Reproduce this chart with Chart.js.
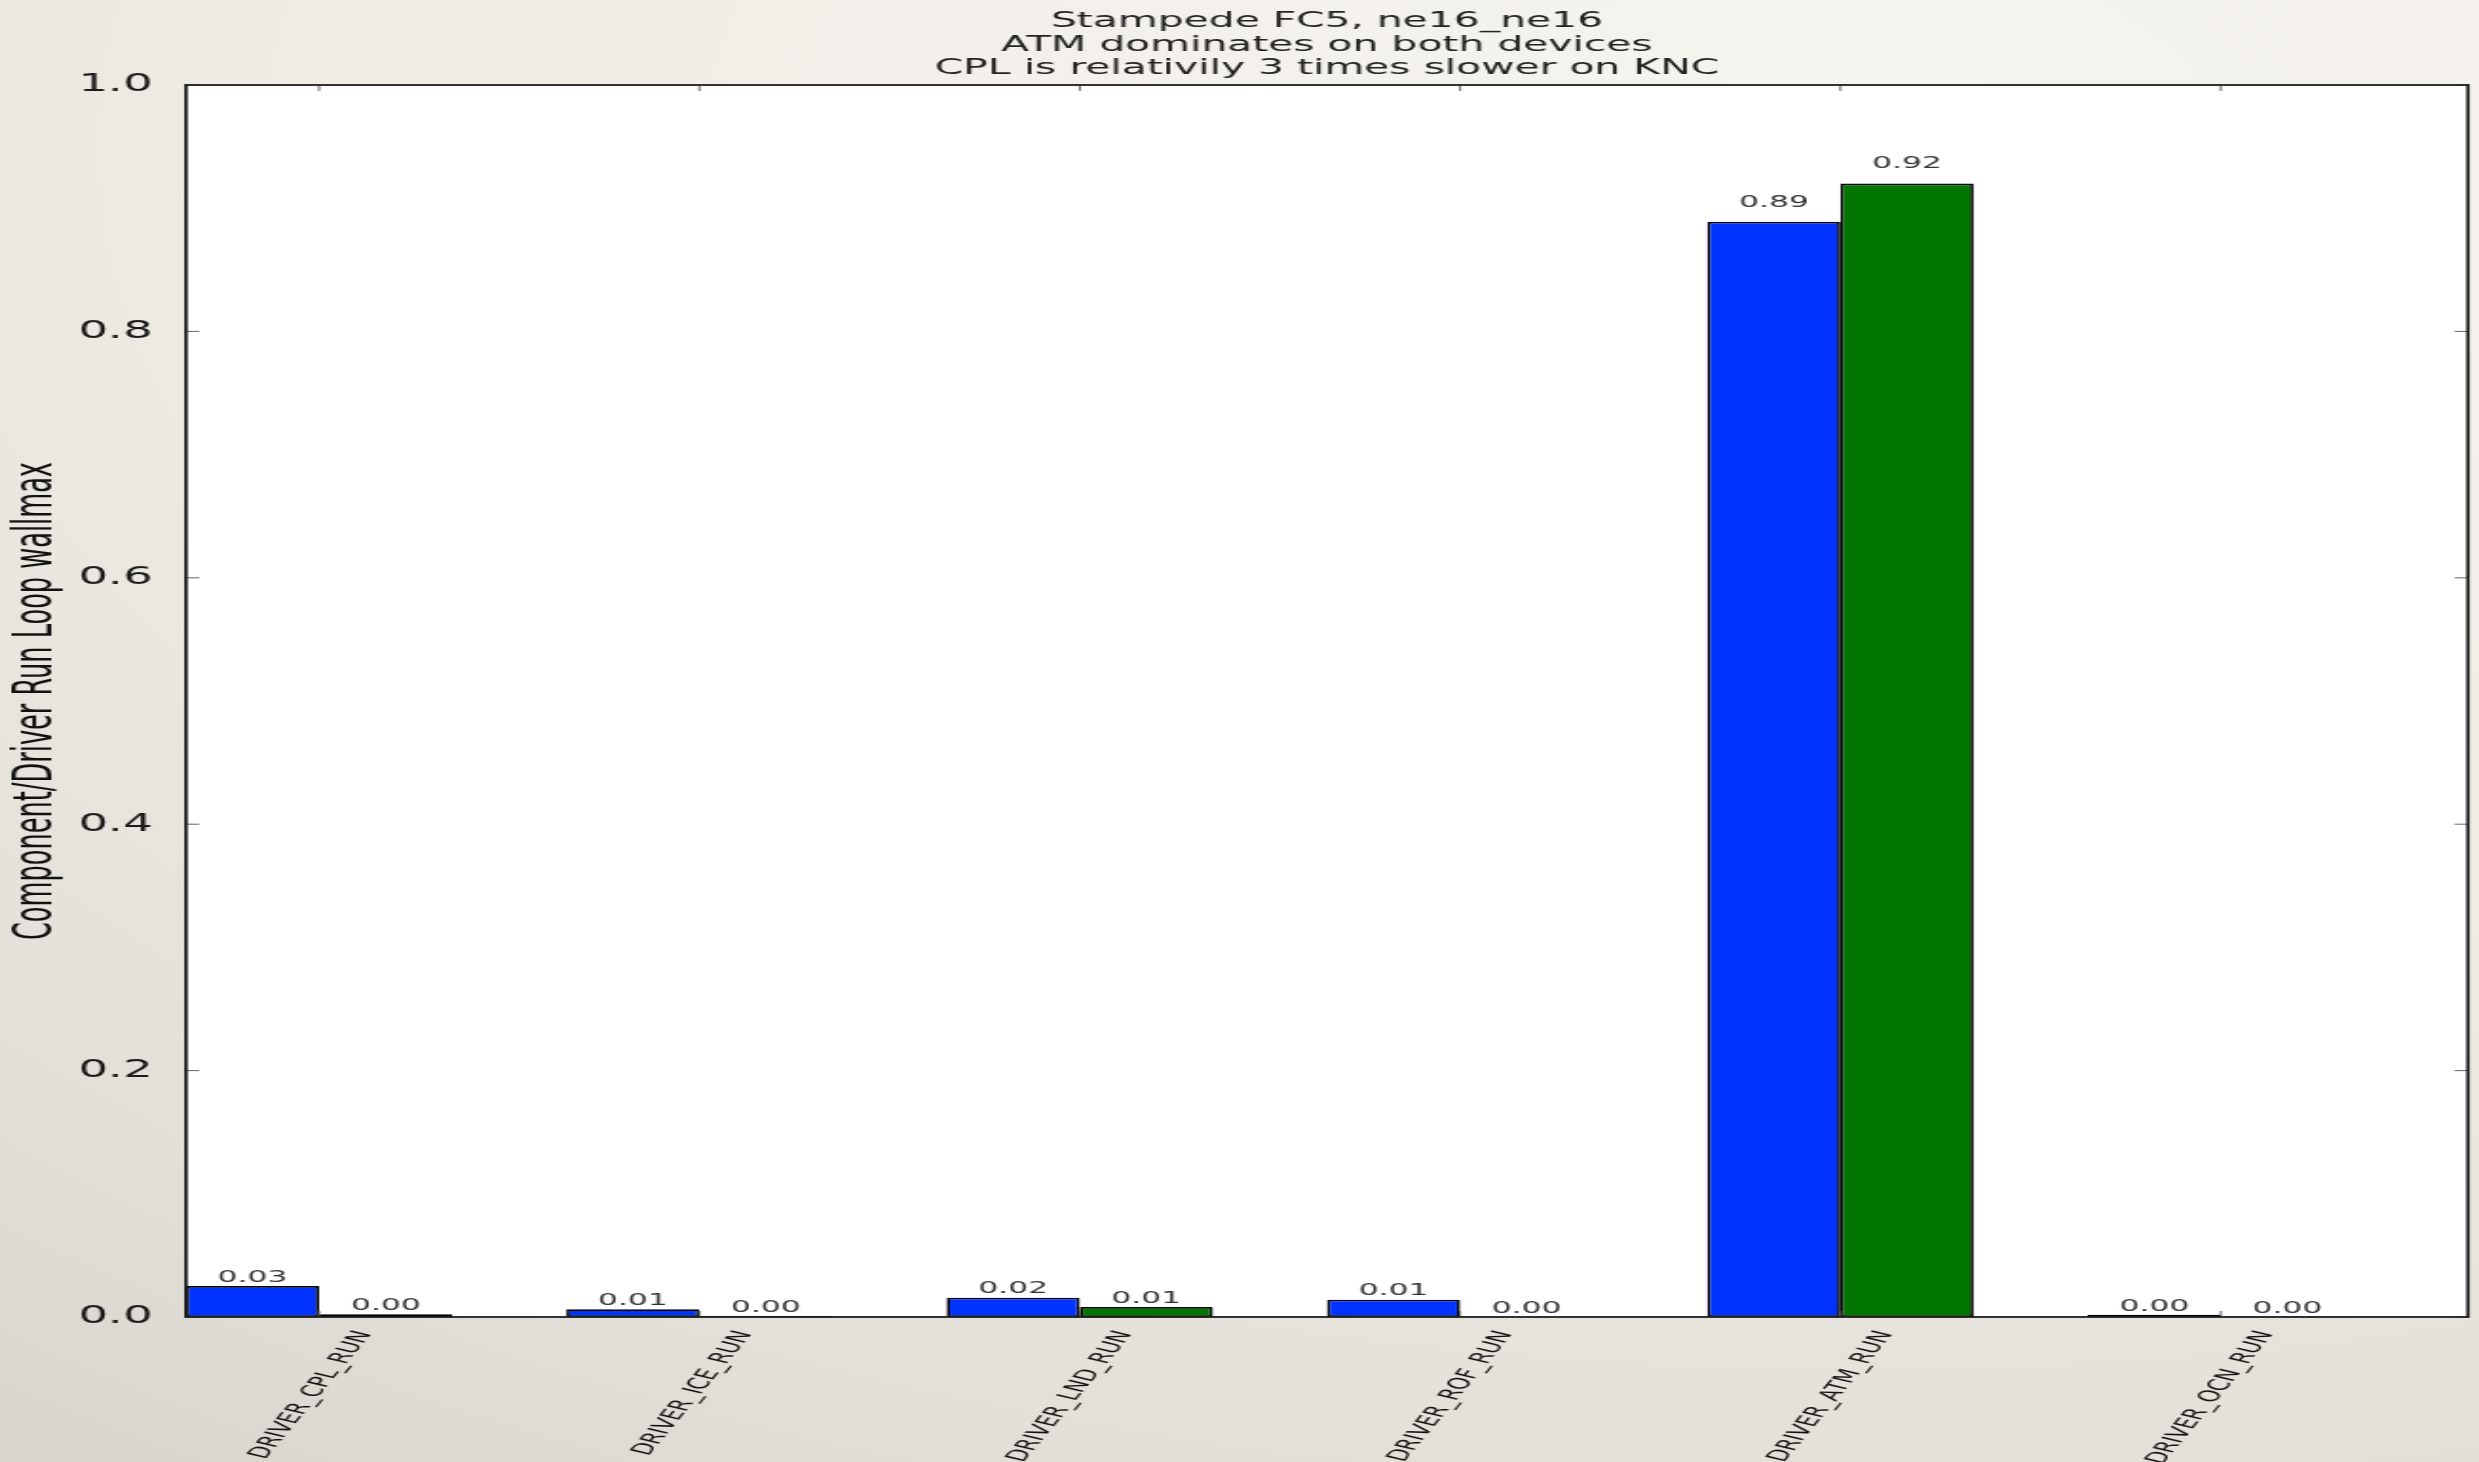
<!DOCTYPE html>
<html>
<head>
<meta charset="UTF-8" />
<title>Stampede FC5, ne16_ne16</title>
<script src="https://cdn.jsdelivr.net/npm/chart.js"></script>
<style>
    html, body {
        margin: 0;
        padding: 0;
        width: 2479px;
        height: 1462px;
        overflow: hidden;
        background: radial-gradient(ellipse 120% 110% at 75% 10%, #f6f4ef 0%, #f0ede7 50%, #e2dfd8 85%, #d9d6cf 100%);
    }
    /* the figure is drawn narrow and stretched sideways */
    #lienzo {
        position: absolute;
        left: 0;
        top: 0;
        width: 1305px;
        height: 1462px;
        transform: scaleX(1.8996);
        transform-origin: 0 0;
    }
</style>
</head>
<body>
<div id="lienzo">
    <canvas id="grafico"></canvas>
</div>
<script>
const categorias = ['DRIVER_CPL_RUN', 'DRIVER_ICE_RUN', 'DRIVER_LND_RUN', 'DRIVER_ROF_RUN', 'DRIVER_ATM_RUN', 'DRIVER_OCN_RUN'];
const valoresHost = [0.0252, 0.0063, 0.0157, 0.0141, 0.889, 0.0018];
const valoresKNC = [0.0022, 0.0009, 0.0081, 0.0003, 0.920, 0.0004];
const ticksY = [0, 0.2, 0.4, 0.6, 0.8, 1.0];

const titulo = ['Stampede FC5, ne16_ne16', 'ATM dominates on both devices', 'CPL is relativily 3 times slower on KNC'];
const tituloY = 'Component/Driver Run Loop wallmax';

// linear x axis: each category sits at its index
const puntos = vals => vals.map((v, i) => ({ x: i, y: v }));

// white plot area behind the bars
const fondoPlot = {
    id: 'fondoPlot',
    beforeDraw(chart) {
        const { ctx, chartArea: a } = chart;
        ctx.save();
        ctx.fillStyle = '#ffffff';
        ctx.fillRect(a.left, a.top, a.right - a.left, a.bottom - a.top);
        ctx.restore();
    }
};

// box frame with inward ticks on all four sides
const marco = {
    id: 'marco',
    afterDatasetsDraw(chart) {
        const { ctx, chartArea: a, scales } = chart;
        ctx.save();
        ctx.strokeStyle = '#666';
        ctx.lineWidth = 1;
        ctx.beginPath();
        scales.y.ticks.forEach(t => {
            const y = scales.y.getPixelForValue(t.value);
            ctx.moveTo(a.left, y); ctx.lineTo(a.left + 7, y);
            ctx.moveTo(a.right, y); ctx.lineTo(a.right - 7, y);
        });
        scales.x.ticks.forEach(t => {
            const x = scales.x.getPixelForValue(t.value);
            ctx.moveTo(x, a.top); ctx.lineTo(x, a.top + 6);
            ctx.moveTo(x, a.bottom); ctx.lineTo(x, a.bottom - 6);
        });
        ctx.stroke();
        ctx.strokeStyle = '#1e1e1e';
        ctx.lineWidth = 1.8;
        ctx.strokeRect(a.left, a.top, a.right - a.left, a.bottom - a.top);
        ctx.restore();
    }
};

// value printed above every bar
const etiquetas = {
    id: 'etiquetas',
    afterDraw(chart) {
        const { ctx, scales } = chart;
        ctx.save();
        ctx.font = '16.5px "DejaVu Sans"';
        ctx.fillStyle = '#333';
        ctx.textAlign = 'center';
        ctx.textBaseline = 'alphabetic';
        chart.data.datasets.forEach((ds, d) => {
            chart.getDatasetMeta(d).data.forEach((barra, i) => {
                const v = ds.data[i].y;
                const y = scales.y.getPixelForValue(v * 1.01) - 4;
                ctx.fillText(v.toFixed(2), barra.x, y);
            });
        });
        ctx.restore();
    }
};

const ctx = document.getElementById('grafico').getContext('2d');

new Chart(ctx, {
    type: 'bar',
    data: {
        datasets: [
            {
                label: 'Host',
                data: puntos(valoresHost),
                backgroundColor: '#0033ff',
                borderColor: '#000000',
                borderWidth: 1.7,
                borderSkipped: false
            },
            {
                label: 'KNC',
                data: puntos(valoresKNC),
                backgroundColor: '#007600',
                borderColor: '#000000',
                borderWidth: 1.7,
                borderSkipped: false
            }
        ]
    },
    options: {
        responsive: true,
        maintainAspectRatio: false,
        animation: false,
        categoryPercentage: 0.7,
        barPercentage: 1.0,
        layout: { padding: { left: 0, right: 5.8, top: 0, bottom: 0 } },
        plugins: {
            legend: { display: false },
            tooltip: { enabled: false },
            title: {
                display: true,
                text: titulo,
                fullSize: false,
                color: '#222',
                font: { family: 'DejaVu Sans', size: 21.5, weight: 'normal', lineHeight: 1.093 },
                padding: { top: 10, bottom: 4.5 }
            }
        },
        scales: {
            x: {
                type: 'linear',
                offset: false,
                min: -0.35,
                max: 5.65,
                afterBuildTicks: escala => {
                    escala.ticks = categorias.map((c, i) => ({ value: i }));
                },
                afterFit: escala => { escala.height = 145; },
                grid: { display: false },
                border: { display: false },
                ticks: {
                    autoSkip: false,
                    minRotation: 66,
                    maxRotation: 66,
                    padding: 3,
                    labelOffset: 24,
                    color: '#111',
                    font: { family: 'DejaVu Sans', size: 15.7 },
                    callback: v => categorias[v]
                }
            },
            y: {
                min: 0,
                max: 1,
                afterBuildTicks: escala => {
                    escala.ticks = ticksY.map(v => ({ value: v }));
                },
                afterFit: escala => { escala.width = 97.9; },
                grid: { display: false },
                border: { display: false },
                ticks: {
                    padding: 9.5,
                    color: '#1a1a1a',
                    font: { family: 'DejaVu Sans', size: 24.7 },
                    callback: v => v.toFixed(1)
                },
                title: {
                    display: true,
                    text: tituloY,
                    color: '#111',
                    font: { family: "'Liberation Sans Narrow', 'DejaVu Sans Condensed', 'Liberation Sans', sans-serif", size: 28.5, lineHeight: 1 },
                    padding: { top: 5.5, bottom: 0 }
                }
            }
        }
    },
    plugins: [fondoPlot, marco, etiquetas]
});
</script>
</body>
</html>
